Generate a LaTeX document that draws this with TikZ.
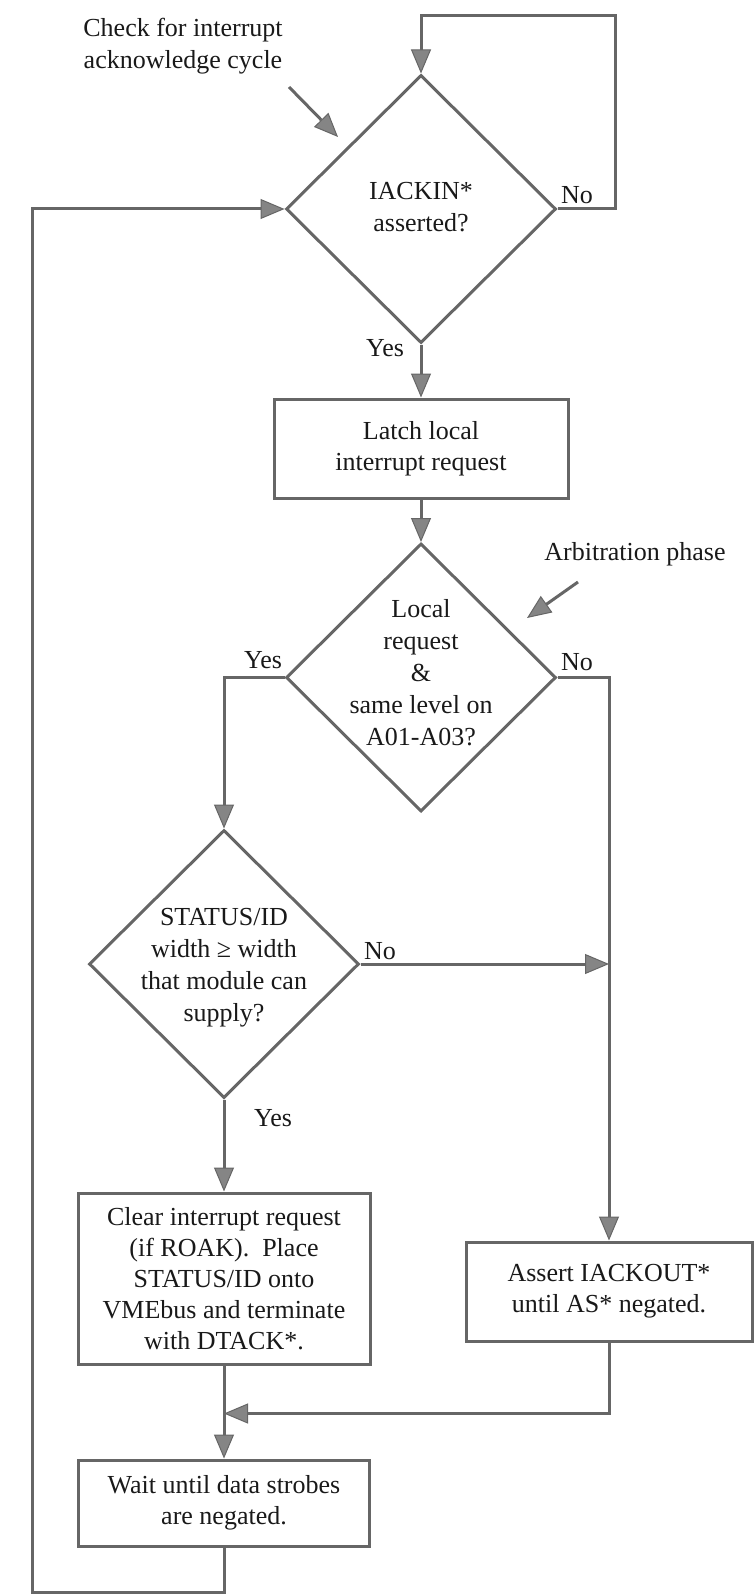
\documentclass[tikz,border=0pt]{standalone}
\usepackage{fontspec}
\setmainfont{Liberation Serif}
\usetikzlibrary{shapes.geometric,arrows.meta}
\begin{document}
\begin{tikzpicture}[x=1pt,y=-1pt,
  conn/.style={draw=black!60,line width=3pt},
  arr/.style={conn,-{Triangle[length=24pt,width=20pt,fill=black!48,line width=1pt]}},
  dec/.style={draw=black!60,line width=3pt,diamond,aspect=1,minimum width=270pt,minimum height=268pt,inner sep=0pt},
  txt/.style={font=\fontsize{26}{32}\selectfont,text=black!90,align=center,inner sep=0pt},
  box/.style={draw=black!60,line width=3pt,inner sep=0pt,font=\fontsize{26}{31}\selectfont,text=black!90,align=center},
]
\useasboundingbox (0,0) rectangle (753,1594);

% decisions
\node[dec] (d1) at (421,209) {};
\node[txt] (t1) at (421,207) {IACKIN*\\asserted?};
\node[dec] (d2) at (421,677.5) {};
\node[txt] (t2) at (421,672.5) {Local\\request\\\&\\same level on\\A01-A03?};
\node[dec] (d3) at (224,964) {};
\node[txt] (t3) at (224,968) {STATUS/ID\\width ≥ width\\that module can\\supply?};

% boxes
\node[box,minimum width=294pt,minimum height=99pt] (latch) at (421,448.5) {Latch local\\interrupt request};
\node[box,minimum width=292pt,minimum height=171pt] (clear) at (224,1278.5) {Clear interrupt request\\(if ROAK).\ \ Place\\STATUS/ID onto\\VMEbus and terminate\\with DTACK*.};
\node[box,minimum width=286pt,minimum height=99pt] (assert) at (609,1291.5) {Assert IACKOUT*\\until AS* negated.};
\node[box,minimum width=291pt,minimum height=86pt] (wait) at (224,1503) {Wait until data strobes\\are negated.};

% labels
\node[txt] (no1) at (577,195) {No};
\node[txt] (yes1) at (385,348) {Yes};
\node[txt] (yes2) at (263,660) {Yes};
\node[txt] (no2) at (577,662) {No};
\node[txt] (no3) at (380,951) {No};
\node[txt] (yes3) at (273,1118) {Yes};
\node[txt] (ann1) at (183,46) {Check for interrupt\\acknowledge cycle};
\node[txt] (ann2) at (635,554) {Arbitration phase};

% helper coordinates
\coordinate (tr) at (615,16);
\coordinate (bl) at (32,1592);
\coordinate (j1) at (assert.north |- d3.east);
\path (assert.south) ++(0,71) coordinate (a2);
\coordinate (a3) at (a2 -| clear.south);
\coordinate (c1s) at (289,87);
\coordinate (c1e) at (338,137);
\coordinate (c2s) at (578,582);
\coordinate (c2e) at (527,618);

% connectors
\draw[arr] (d1.east) -| (tr) -| (d1.north);
\draw[arr] (d1.south) -- (latch.north);
\draw[arr] (latch.south) -- (d2.north);
\draw[arr] (d2.west) -| (d3.north);
\draw[arr] (d2.east) -| (assert.north);
\draw[arr] (d3.east) -- (j1);
\draw[arr] (d3.south) -- (clear.north);
\draw[arr] (clear.south) -- (wait.north);
\draw[arr] (assert.south) -- (a2) -- (a3);
\draw[arr] (wait.south) |- (bl) |- (d1.west);
\draw[arr] (c1s) -- (c1e);
\draw[arr] (c2s) -- (c2e);
\end{tikzpicture}
\end{document}
